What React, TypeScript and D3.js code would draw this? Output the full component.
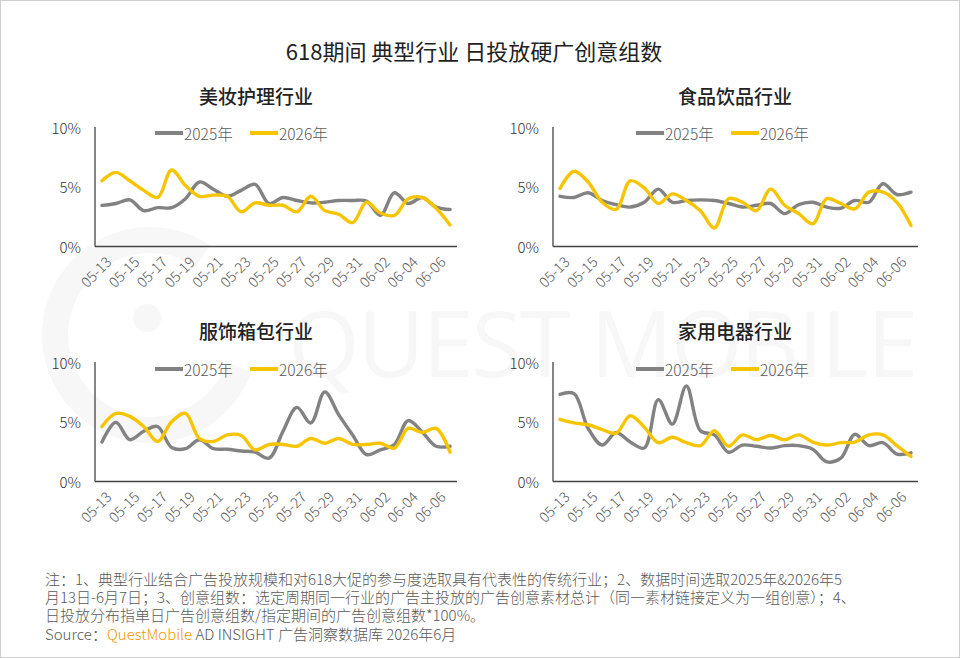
import React from "react";
import * as d3 from "d3";

const dates = [
  "05-13","05-14","05-15","05-16","05-17","05-18","05-19","05-20","05-21","05-22","05-23","05-24","05-25",
  "05-26","05-27","05-28","05-29","05-30","05-31","06-01","06-02","06-03","06-04","06-05","06-06","06-07",
];
const yTicks = [0, 5, 10];
const seriesNames = ["2025年", "2026年"];
const seriesColors = ["#828282", "#f6c500"];

const beauty2025 = [3.44,3.6,3.9,3.0,3.25,3.25,4.0,5.4,4.8,4.2,4.7,5.2,3.6,4.1,3.85,3.65,3.7,3.85,3.85,3.8,2.6,4.5,3.6,4.1,3.3,3.1];
const beauty2026 = [5.5,6.2,5.5,4.7,4.1,6.4,5.1,4.2,4.3,4.2,2.9,3.65,3.45,3.45,2.9,4.2,3.0,2.7,2.0,3.7,2.8,2.6,4.0,4.1,3.2,1.8];
const food2025 = [4.2,4.1,4.5,3.85,3.5,3.3,3.7,4.8,3.7,3.85,3.9,3.85,3.6,3.3,3.45,3.6,2.75,3.5,3.7,3.3,3.2,3.85,3.7,5.25,4.35,4.55];
const food2026 = [4.85,6.3,5.4,3.7,3.1,5.5,4.9,3.6,4.4,3.85,3.0,1.55,4.0,3.7,3.0,4.8,3.45,2.75,1.9,4.0,3.6,3.15,4.55,4.55,3.7,1.75];
const apparel2025 = [3.3,4.95,3.5,4.2,4.6,2.85,2.75,3.5,2.75,2.7,2.55,2.45,1.95,4.2,6.2,4.9,7.5,5.6,3.9,2.25,2.65,3.1,5.1,4.15,2.95,2.95];
const apparel2026 = [4.6,5.7,5.45,4.6,3.35,5.0,5.7,3.6,3.35,3.9,3.85,2.65,3.1,3.1,2.95,3.6,3.2,3.6,3.1,3.1,3.2,2.8,4.45,4.1,4.45,2.45];
const appliance2025 = [7.3,7.35,4.45,3.05,4.1,3.3,2.8,6.85,4.8,8.0,4.25,3.9,2.45,3.05,2.95,2.8,3.0,3.0,2.7,1.65,1.95,3.95,3.0,3.25,2.3,2.4];
const appliance2026 = [5.2,4.9,4.75,4.35,4.05,5.5,4.55,3.25,3.7,3.25,3.0,4.25,2.95,3.9,3.5,3.85,3.5,3.9,3.3,3.05,3.25,3.3,3.9,3.9,3.0,2.1];

const panelTitles = ["美妆护理行业", "食品饮品行业", "服饰箱包行业", "家用电器行业"];
const panelData = [
  [beauty2025, beauty2026],
  [food2025, food2026],
  [apparel2025, apparel2026],
  [appliance2025, appliance2026],
];

const chartTitle = "618期间 典型行业 日投放硬广创意组数";
const notes = [
  "注：1、典型行业结合广告投放规模和对618大促的参与度选取具有代表性的传统行业；2、数据时间选取2025年&2026年5",
  "月13日-6月7日；3、创意组数：选定周期同一行业的广告主投放的广告创意素材总计（同一素材链接定义为一组创意）；4、",
  "日投放分布指单日广告创意组数/指定期间的广告创意组数*100%。",
];
const watermark = "QUEST MOBILE";

const FONT = '"Noto Sans CJK SC", "Microsoft YaHei", sans-serif';

type Layout = { x0: number; x1: number; yTop: number; yBot: number; titleX: number; titleY: number; legendY: number; legendX: number };
const layouts: Layout[] = [
  { x0: 95, x1: 457, yTop: 127, yBot: 246.5, titleX: 256, titleY: 95, legendY: 133, legendX: 155 },
  { x0: 553, x1: 918, yTop: 127, yBot: 246.5, titleX: 735, titleY: 95, legendY: 133, legendX: 636 },
  { x0: 95, x1: 457, yTop: 362, yBot: 481.5, titleX: 256, titleY: 330, legendY: 369, legendX: 155 },
  { x0: 553, x1: 918, yTop: 362, yBot: 481.5, titleX: 735, titleY: 330, legendY: 369, legendX: 636 },
];

function Panel({ idx }: { idx: number }) {
  const L = layouts[idx];
  const x = d3.scaleBand<string>().domain(dates).range([L.x0, L.x1]);
  const y = d3.scaleLinear().domain([0, 10]).range([L.yBot, L.yTop]);
  const line = d3
    .line<number>()
    .x((_, i) => (x(dates[i]) as number) + x.bandwidth() / 2)
    .y((d) => y(d))
    .curve(d3.curveCatmullRom.alpha(0.5));
  const series = panelData[idx];
  return (
    <g>
      <text x={L.titleX} y={L.titleY} textAnchor="middle" dominantBaseline="central" fontSize={19} fontWeight={500} fill="#222">
        {panelTitles[idx]}
      </text>
      {yTicks.map((t) => (
        <text key={t} x={L.x0 - 14} y={y(t)} textAnchor="end" dominantBaseline="central" fontSize={15} fontWeight={300} fill="#333">
          {t}%
        </text>
      ))}
      {series.map((s, si) => (
        <path key={si} d={line(s) || ""} fill="none" stroke={seriesColors[si]} strokeWidth={3.4} strokeLinejoin="round" strokeLinecap="round" />
      ))}
      <line x1={L.x0} x2={L.x0} y1={L.yTop} y2={L.yBot} stroke="#444" strokeWidth={1.3} />
      <line x1={L.x0} x2={L.x1} y1={L.yBot} y2={L.yBot} stroke="#444" strokeWidth={1.3} />
      {dates.map((d, i) =>
        i % 2 === 0 && i < 25 ? (
          <text
            key={d}
            transform={`translate(${(x(d) as number) + x.bandwidth() / 2 + 6},${L.yBot + 12}) rotate(-45)`}
            textAnchor="end"
            dominantBaseline="central"
            fontSize={14.5}
            fontWeight={300}
            fill="#595959"
          >
            {d}
          </text>
        ) : null
      )}
      {seriesNames.map((n, si) => {
        const lx = L.legendX + si * 95;
        return (
          <g key={n}>
            <line x1={lx} x2={lx + 28} y1={L.legendY} y2={L.legendY} stroke={seriesColors[si]} strokeWidth={4} />
            <text x={lx + 29} y={L.legendY} dominantBaseline="central" fontSize={15.5} fontWeight={300} fill="#595959">
              {n}
            </text>
          </g>
        );
      })}
    </g>
  );
}

export default function App() {
  const W = 960;
  const H = 658;
  return (
    <svg
      width={W}
      height={H}
      viewBox={`0 0 ${W} ${H}`}
      style={{ position: "absolute", left: 0, top: 0, background: "#fff", fontFamily: FONT }}
    >
      <rect x={0} y={0} width={W} height={H} fill="#fff" />
      {/* faint watermark */}
      <g>
        <circle cx={150} cy={335} r={95} fill="none" stroke="#f7f7f7" strokeWidth={26} strokeDasharray="470 130" transform="rotate(20 150 335)" />
        <circle cx={147} cy={318} r={14} fill="#f7f7f7" />
        <text x={288} y={377} fontSize={92} fill="#f7f7f7" textLength={630} lengthAdjust="spacing" fontFamily="'Open Sans', sans-serif">
          {watermark}
        </text>
      </g>
      <rect x={0.5} y={0.5} width={W - 1} height={H - 1} fill="none" stroke="#cfcfcf" strokeWidth={1} />
      <text x={474} y={50} textAnchor="middle" dominantBaseline="central" fontSize={22} fontWeight={400} fill="#222">
        {chartTitle}
      </text>
      {[0, 1, 2, 3].map((i) => (
        <Panel key={i} idx={i} />
      ))}
      {notes.map((t, i) => (
        <text key={i} x={45} y={578 + i * 18.3} dominantBaseline="central" fontSize={15} fontWeight={300} fill="#595959">
          {t}
        </text>
      ))}
      <text x={45} y={633} dominantBaseline="central" fontSize={15} fontWeight={300} fill="#595959">
        Source：<tspan fill="#f39800">QuestMobile</tspan> AD INSIGHT 广告洞察数据库 2026年6月
      </text>
    </svg>
  );
}
